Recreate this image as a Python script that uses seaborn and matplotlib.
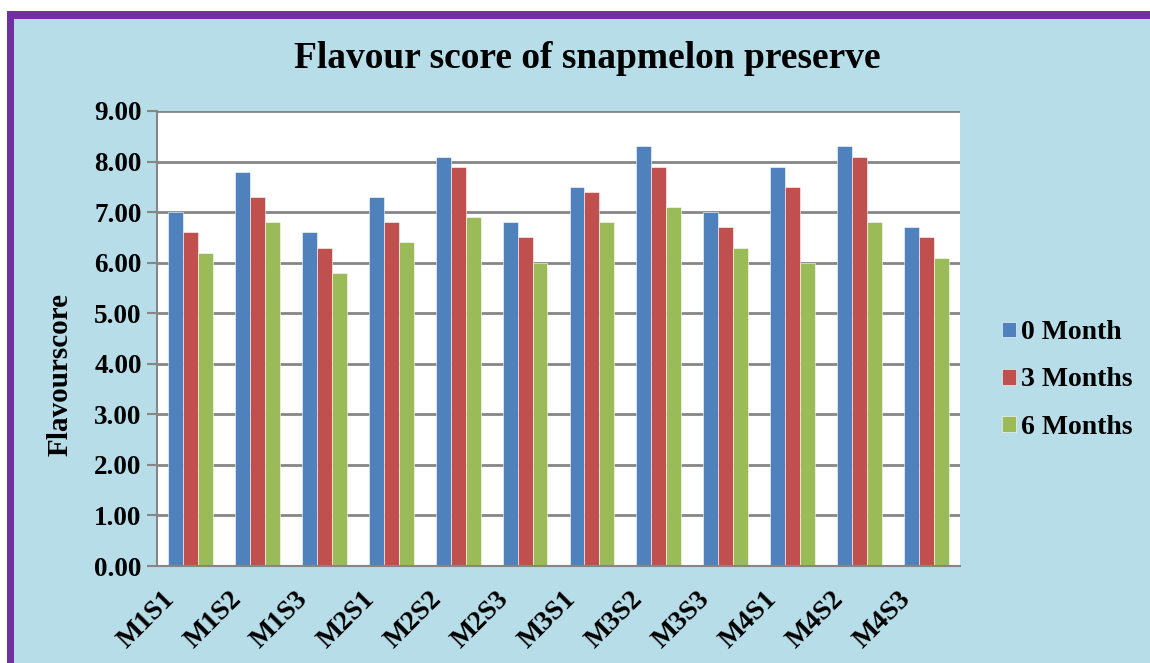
import pandas as pd
import numpy as np
import matplotlib
matplotlib.use('Agg')
import matplotlib.pyplot as plt
import matplotlib.transforms as mtrans
import seaborn as sns
from matplotlib.patches import Rectangle
from matplotlib.ticker import FixedLocator

treatments = ['M1S1', 'M1S2', 'M1S3', 'M2S1', 'M2S2', 'M2S3',
              'M3S1', 'M3S2', 'M3S3', 'M4S1', 'M4S2', 'M4S3']
month0 = [7.0, 7.8, 6.6, 7.3, 8.1, 6.8, 7.5, 8.3, 7.0, 7.9, 8.3, 6.7]
month3 = [6.6, 7.3, 6.3, 6.8, 7.9, 6.5, 7.4, 7.9, 6.7, 7.5, 8.1, 6.5]
month6 = [6.2, 6.8, 5.8, 6.4, 6.9, 6.0, 6.8, 7.1, 6.3, 6.0, 6.8, 6.1]
periods = ['0 Month', '3 Months', '6 Months']
yticks = [0, 1, 2, 3, 4, 5, 6, 7, 8, 9]

df = pd.DataFrame({'treatment': treatments * 3,
                   'score': month0 + month3 + month6,
                   'period': [p for p in periods for _ in treatments]})

sns.set_style('white')
plt.rcParams['font.family'] = ['Liberation Serif', 'DejaVu Serif']
plt.rcParams['font.weight'] = 'bold'
plt.rcParams['text.color'] = 'black'
plt.rcParams['axes.labelcolor'] = 'black'
plt.rcParams['xtick.color'] = 'black'
plt.rcParams['ytick.color'] = 'black'

bg = '#B7DDE8'
grey = '#868686'
pal = ['#4F81BD', '#C0504D', '#9BBB59']

fig = plt.figure(figsize=(11.5, 6.63), dpi=100, facecolor='white')
# purple frame on top and left, light blue chart area
fig.add_artist(Rectangle((7/1150, 0), 1, (663-11)/663, transform=fig.transFigure,
                         facecolor='#7030A0', edgecolor='none', zorder=-2))
fig.add_artist(Rectangle((14/1150, 0), 1, (663-18.5)/663, transform=fig.transFigure,
                         facecolor=bg, edgecolor='none', zorder=-1))

ax = fig.add_axes([157/1150, 1-566/663, (960-157)/1150, (566-111)/663])
ax.set_facecolor('white')

sns.barplot(data=df, x='treatment', y='score', hue='period', palette=pal,
            width=0.67, ax=ax, edgecolor='white', linewidth=0.4, saturation=1)

ax.set_ylim(0, 9)
ax.set_xlim(-0.5, 11.5)
ax.set_yticks(yticks)
ax.set_yticklabels(['%.2f' % v for v in yticks], fontsize=19.5, fontweight='bold',
                   color='black')
ax.yaxis.grid(True, color=grey, linewidth=2)
ax.set_axisbelow(True)

ax.set_xticks(range(len(treatments)))
ax.xaxis.set_minor_locator(FixedLocator(np.arange(-0.5, 12, 1)))
ax.tick_params(axis='x', which='major', length=0, pad=21)
ax.tick_params(axis='x', which='minor', length=7, color=grey, width=1.5, direction='out')
ax.tick_params(axis='y', length=7, color=grey, width=1.5, direction='out', pad=4, left=True)
ax.set_xticklabels(treatments, rotation=45, ha='right', va='center',
                   rotation_mode='anchor', fontsize=20, fontweight='bold', color='black')
# nudge the slanted labels left, as in the original
shift = mtrans.ScaledTranslation(-20/100, 0, fig.dpi_scale_trans)
for lab in ax.get_xticklabels():
    lab.set_transform(lab.get_transform() + shift)

for s in ['top', 'right']:
    ax.spines[s].set_visible(False)
for s in ['left', 'bottom']:
    ax.spines[s].set_color(grey)
    ax.spines[s].set_linewidth(1.5)

ax.set_xlabel('')
ax.set_ylabel('Flavourscore', fontsize=21, fontweight='bold', color='black')
ax.yaxis.set_label_coords(-0.104, 0.42)

fig.text(587/1150, 1-58/663, 'Flavour score of snapmelon preserve',
         ha='center', va='center', fontsize=27, fontweight='bold', color='black')

ax.legend(loc='center left', bbox_to_anchor=(977/1150, 1-380/663),
          bbox_transform=fig.transFigure, frameon=False,
          prop={'size': 20, 'weight': 'bold'}, handlelength=0.5, handleheight=0.5,
          handletextpad=0.2, labelspacing=0.8)

fig.savefig('out.png', dpi=100, facecolor=fig.get_facecolor())
